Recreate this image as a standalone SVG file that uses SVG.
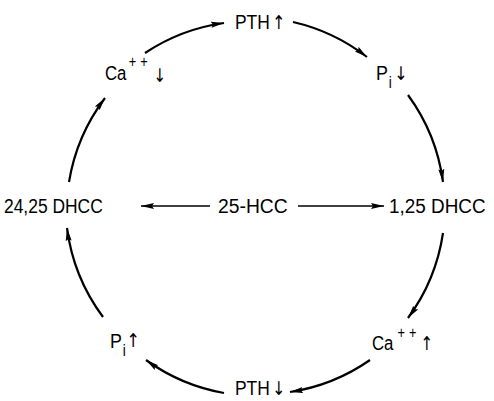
<svg xmlns="http://www.w3.org/2000/svg" width="494" height="401" viewBox="0 0 494 401">
<style>
text{font-family:"Liberation Sans","DejaVu Sans",sans-serif;font-size:21px;fill:#000}
.sup{font-size:16px;letter-spacing:5px}
.sub{font-size:16px}
.ar{font-family:"DejaVu Sans",sans-serif;font-size:19px;letter-spacing:0}
.arc{fill:none;stroke:#000;stroke-width:2.2;marker-end:url(#ah)}
.line{fill:none;stroke:#000;stroke-width:1.6;marker-end:url(#ah)}
</style>
<defs>
<marker id="ah" markerUnits="userSpaceOnUse" markerWidth="16" markerHeight="10" refX="13" refY="4" orient="auto">
<path d="M0,1 L13,4 L0,7 L2,4 z" fill="#000"/>
</marker>
</defs>
<g id="connectors">
<path class="arc" d="M145,53 A190,190 0 0 1 224,23"/>
<path class="arc" d="M293,22 A190,190 0 0 1 367,57"/>
<path class="arc" d="M408,95 A190,190 0 0 1 443,182"/>
<path class="arc" d="M443,233 A190,190 0 0 1 408,318"/>
<path class="arc" d="M370,360 A190,190 0 0 1 290,392"/>
<path class="arc" d="M224,393 A190,190 0 0 1 146,360"/>
<path class="arc" d="M103,317 A190,190 0 0 1 67,228"/>
<path class="arc" d="M69,182 A190,190 0 0 1 105,98"/>
<path class="line" d="M210,206 L141,206"/>
<path class="line" d="M298,206 L384,206"/>
</g>
<g id="pth-up">
<text transform="translate(235,29) scale(0.83,1)">PTH<tspan class="ar" dx="3">↑</tspan></text>
</g>
<g id="pi-down">
<text transform="translate(376,80) scale(0.85,1)">P<tspan class="sub" dx="1" dy="8">i</tspan><tspan class="ar" dx="3" dy="-8">↓</tspan></text>
</g>
<g id="dhcc-125">
<text transform="translate(389,213) scale(0.9,1)">1,25 DHCC</text>
</g>
<g id="ca-up">
<text transform="translate(372,350) scale(0.8,1)">Ca<tspan class="sup" dx="5" dy="-12">++</tspan><tspan class="ar" dx="0" dy="12">↑</tspan></text>
</g>
<g id="pth-down">
<text transform="translate(235,395) scale(0.83,1)">PTH<tspan class="ar" dx="3">↓</tspan></text>
</g>
<g id="pi-up">
<text transform="translate(110,348) scale(0.85,1)">P<tspan class="sub" dx="1" dy="8">i</tspan><tspan class="ar" dx="1" dy="-9">↑</tspan></text>
</g>
<g id="dhcc-2425">
<text transform="translate(4,213) scale(0.83,1)">24,25 DHCC</text>
</g>
<g id="hcc-25">
<text transform="translate(218,213) scale(0.92,1)">25-HCC</text>
</g>
<g id="ca-down">
<text transform="translate(105,80) scale(0.8,1)">Ca<tspan class="sup" dx="3" dy="-13">++</tspan><tspan class="ar" dx="2" dy="15">↓</tspan></text>
</g>
</svg>
